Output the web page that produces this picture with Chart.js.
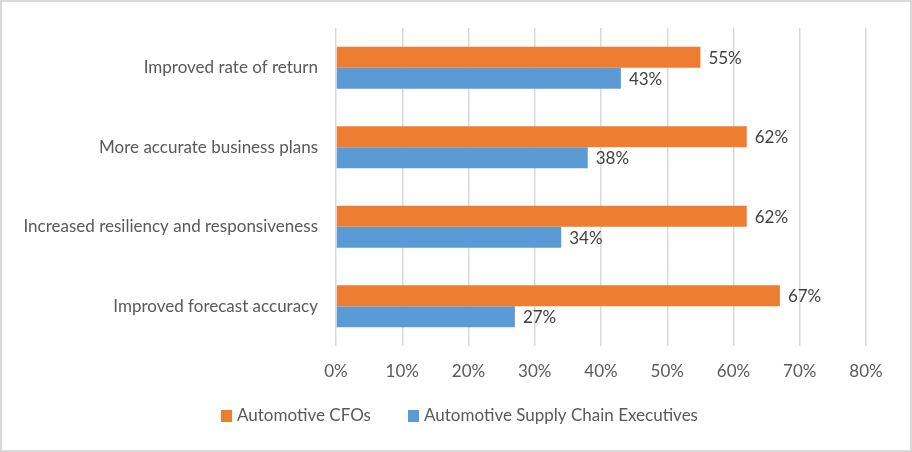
<!DOCTYPE html>
<html>
<head>
<meta charset="utf-8">
<script src="https://cdn.jsdelivr.net/npm/chart.js@4"></script>
<style>
  html, body { margin: 0; padding: 0; background: #fff; }
  .wrap { position: relative; width: 912px; height: 452px; }
  .frame {
    position: absolute; left: 0; top: 0;
    width: 912px; height: 452px;
    box-sizing: border-box;
    border: 2px solid #d9d9d9;
    pointer-events: none;
  }
  canvas { position: absolute; left: 0; top: 0; }
</style>
</head>
<body>
<div class="wrap">
  <canvas id="bar-chart" width="912" height="452"></canvas>
  <div class="frame"></div>
</div>
<script>
// 카테고리 (위에서 아래 순서)
var categories = [
  "Improved rate of return",
  "More accurate business plans",
  "Increased resiliency and responsiveness",
  "Improved forecast accuracy"
];
// 시리즈 값 (%)
var cfoValues = [55, 62, 62, 67];
var supplyValues = [43, 38, 34, 27];
var seriesNames = ["Automotive CFOs", "Automotive Supply Chain Executives"];
var seriesColors = ['#ED7D31', '#5B9BD5'];
// x축 눈금
var xTicks = [0, 10, 20, 30, 40, 50, 60, 70, 80];

var FONT = "Lato, 'Open Sans', sans-serif";
var SIZE = 17;

// 막대 끝에 값 표시
var valueLabels = {
  id: 'valueLabels',
  afterDatasetsDraw: function (chart) {
    var ctx = chart.ctx;
    ctx.save();
    ctx.font = SIZE + "px " + FONT;
    ctx.fillStyle = "#404040";
    ctx.textBaseline = "middle";
    ctx.textAlign = "left";
    chart.data.datasets.forEach(function (ds, i) {
      chart.getDatasetMeta(i).data.forEach(function (bar, j) {
        ctx.fillText(ds.data[j] + "%", bar.x + 8, bar.y + 1);
      });
    });
    ctx.restore();
  }
};

// 범례 직접 그리기 (엑셀처럼 항목 간격을 넓게)
var bottomLegend = {
  id: 'bottomLegend',
  afterDraw: function (chart) {
    var ctx = chart.ctx;
    var box = 11, gap = 5, spacing = 37;
    var centerX = 459.5, y = 416;
    ctx.save();
    ctx.font = SIZE + "px " + FONT;
    ctx.textBaseline = "middle";
    ctx.textAlign = "left";

    var items = chart.data.datasets.map(function (ds) {
      return { text: ds.label, color: ds.backgroundColor, w: ctx.measureText(ds.label).width };
    });
    var total = 0;
    items.forEach(function (it, i) {
      total += box + gap + it.w + (i < items.length - 1 ? spacing : 0);
    });

    var x = centerX - total / 2;
    items.forEach(function (it) {
      ctx.fillStyle = it.color;
      ctx.fillRect(x, y - 6, box, box + 1);
      ctx.fillStyle = "#595959";
      ctx.fillText(it.text, x + box + gap, y);
      x += box + gap + it.w + spacing;
    });
    ctx.restore();
  }
};

new Chart(document.getElementById("bar-chart"), {
  type: 'bar',
  data: {
    labels: categories,
    datasets: [
      {
        label: seriesNames[0],
        backgroundColor: seriesColors[0],
        data: cfoValues,
        categoryPercentage: 0.53,
        barPercentage: 1.0
      },
      {
        label: seriesNames[1],
        backgroundColor: seriesColors[1],
        data: supplyValues,
        categoryPercentage: 0.53,
        barPercentage: 1.0
      }
    ]
  },
  options: {
    indexAxis: 'y',
    responsive: false,
    animation: false,
    layout: { padding: { left: 0, right: 46, top: 28, bottom: 54 } },
    scales: {
      x: {
        min: xTicks[0],
        max: xTicks[xTicks.length - 1],
        afterBuildTicks: function (axis) {
          axis.ticks = xTicks.map(function (v) { return { value: v }; });
        },
        afterFit: function (axis) { axis.height = 52; },
        grid: { color: '#d9d9d9', lineWidth: 1.5, drawTicks: false },
        border: { display: false },
        ticks: {
          padding: 15,
          color: '#595959',
          font: { family: FONT, size: SIZE },
          callback: function (v) { return v + '%'; }
        }
      },
      y: {
        afterFit: function (axis) { axis.width = 336; },
        grid: { display: false },
        border: { display: false },
        ticks: {
          padding: 10,
          color: '#595959',
          font: { family: FONT, size: SIZE }
        }
      }
    },
    plugins: {
      legend: { display: false },
      tooltip: { enabled: false }
    }
  },
  plugins: [valueLabels, bottomLegend]
});
</script>
</body>
</html>
